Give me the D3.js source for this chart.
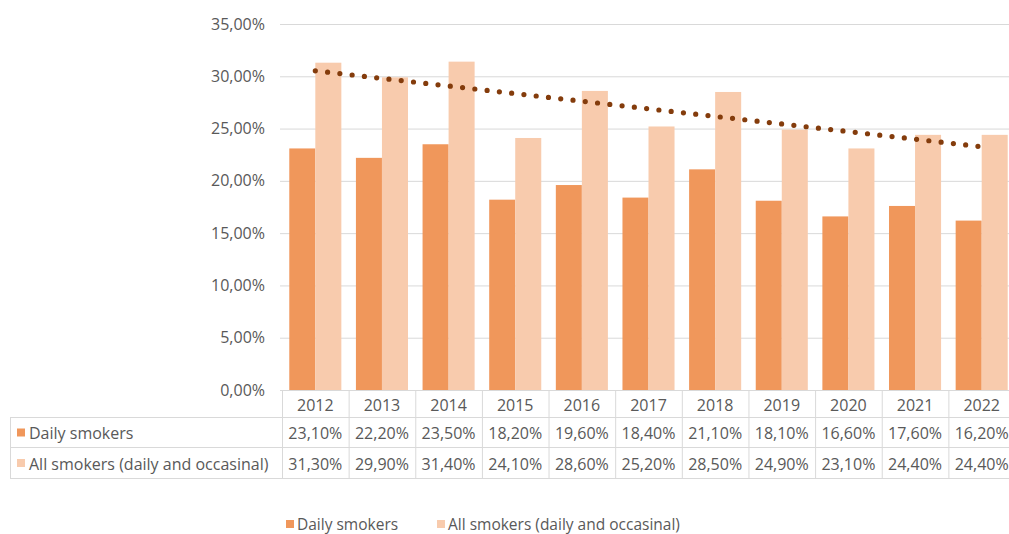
<!DOCTYPE html>
<html>
<head>
<meta charset="utf-8">
<script src="https://cdn.jsdelivr.net/npm/d3@7"></script>
<style>
  html, body { margin: 0; padding: 0; background: #ffffff; }
  svg { display: block; }
  text { font-family: "Open Sans", "Noto Sans", sans-serif; fill: #595959; }
</style>
</head>
<body>
<svg id="chart" width="1009" height="534"></svg>
<script>
// ---- data ----
const years = ["2012","2013","2014","2015","2016","2017","2018","2019","2020","2021","2022"];
const dailySmokers = [23.1, 22.2, 23.5, 18.2, 19.6, 18.4, 21.1, 18.1, 16.6, 17.6, 16.2];
const allSmokers   = [31.3, 29.9, 31.4, 24.1, 28.6, 25.2, 28.5, 24.9, 23.1, 24.4, 24.4];
const seriesNames  = ["Daily smokers", "All smokers (daily and occasinal)"];
const seriesKeys   = ["daily", "all"];
const yTicks       = [0, 5, 10, 15, 20, 25, 30, 35];

// ---- styles ----
const colors = { daily: "#F0975B", all: "#F8CBAD" };
const trendColor = "#843C0C";
const gridColor = "#D9D9D9";
const fontSize = 16;

const svg = d3.select("#chart");

const plotLeft = 282, plotRight = 1015, plotTop = 24, plotBottom = 390;
const rowH = [390, 417, 447, 478];

const locale = d3.formatLocale({ decimal: ",", thousands: ".", grouping: [3], currency: ["", "€"] });
const fmt = v => locale.format(".2f")(v) + "%";

const x = d3.scaleBand().domain(years).range([plotLeft, plotRight]).padding(0);
const xSub = d3.scaleBand().domain(seriesKeys).range([0, x.bandwidth()]).paddingInner(0).paddingOuter(0.28);
const y = d3.scaleLinear().domain([0, 35]).range([plotBottom, plotTop]);

const rows = years.map((yr, i) => ({ year: yr, daily: dailySmokers[i], all: allSmokers[i] }));

// gridlines + y labels
const yAxis = d3.axisLeft(y).tickValues(yTicks).tickFormat(fmt)
  .tickSize(-(plotRight - plotLeft + 2)).tickPadding(15);
const gy = svg.append("g").attr("transform", `translate(${plotLeft - 2},0)`).call(yAxis);
gy.select(".domain").remove();
gy.selectAll(".tick line").attr("stroke", gridColor).attr("stroke-width", 1);
gy.selectAll(".tick text").attr("font-size", fontSize).attr("fill", "#595959")
  .style("font-family", '"Open Sans", sans-serif');

// bars
const groups = svg.append("g").selectAll("g").data(rows).join("g")
  .attr("transform", d => `translate(${x(d.year)},0)`);
groups.selectAll("rect").data(d => seriesKeys.map(k => ({ key: k, value: d[k] }))).join("rect")
  .attr("x", d => xSub(d.key))
  .attr("width", xSub.bandwidth())
  .attr("y", d => y(d.value))
  .attr("height", d => y(0) - y(d.value))
  .attr("fill", d => colors[d.key]);

// linear trendline on all smokers (least squares, as the spreadsheet does)
const n = allSmokers.length;
const idx = d3.range(1, n + 1);
const mx = d3.mean(idx), my = d3.mean(allSmokers);
const slope = d3.sum(idx, (t, i) => (t - mx) * (allSmokers[i] - my)) / d3.sum(idx, t => (t - mx) ** 2);
const icpt = my - slope * mx;
const trendPts = [years[0], years[n - 1]].map((yr, j) => {
  const t = j === 0 ? 1 : n;
  return [x(yr) + x.bandwidth() / 2, y(icpt + slope * t)];
});
svg.append("path")
  .attr("d", d3.line()(trendPts))
  .attr("stroke", trendColor).attr("stroke-width", 5.2)
  .attr("stroke-linecap", "round").attr("stroke-dasharray", "0 12.35")
  .attr("fill", "none");

// ---- data table ----
const table = svg.append("g");
const line = (x1, y1, x2, y2) => table.append("line")
  .attr("x1", x1).attr("y1", y1).attr("x2", x2).attr("y2", y2)
  .attr("stroke", gridColor).attr("stroke-width", 1);

line(plotLeft, rowH[0] + 0.5, plotRight, rowH[0] + 0.5);
line(10, rowH[1] + 0.5, plotRight, rowH[1] + 0.5);
line(10, rowH[2] + 0.5, plotRight, rowH[2] + 0.5);
line(10, rowH[3] + 0.5, plotRight, rowH[3] + 0.5);
line(10.5, rowH[1], 10.5, rowH[3]);
years.concat(["__end"]).forEach((yr, i) => {
  const xx = (i < years.length ? x(yr) : plotRight) + 0.5;
  line(xx, rowH[0], xx, rowH[3]);
});

// year row
table.selectAll("text.year").data(years).join("text").attr("class", "year")
  .attr("x", d => x(d) + x.bandwidth() / 2)
  .attr("y", (rowH[0] + rowH[1]) / 2 + 1)
  .attr("text-anchor", "middle").attr("dominant-baseline", "central")
  .attr("font-size", fontSize).text(d => d);

// value rows
seriesKeys.forEach((k, r) => {
  const yc = (rowH[r + 1] + rowH[r + 2]) / 2 + 1;
  table.selectAll(`text.v${k}`).data(rows).join("text").attr("class", `v${k}`)
    .attr("x", d => x(d.year) + x.bandwidth() / 2)
    .attr("y", yc)
    .attr("text-anchor", "middle").attr("dominant-baseline", "central")
    .attr("font-size", fontSize).text(d => fmt(d[k]));
  table.append("rect").attr("x", 17).attr("y", yc - 4.5).attr("width", 8).attr("height", 8)
    .attr("fill", colors[k]);
  table.append("text").attr("x", 29).attr("y", yc)
    .attr("dominant-baseline", "central").attr("font-size", fontSize).text(seriesNames[r]);
});

// ---- bottom legend ----
const legend = svg.append("g");
const legendX = [286, 437];
seriesKeys.forEach((k, i) => {
  legend.append("rect").attr("x", legendX[i]).attr("y", 520).attr("width", 8).attr("height", 8)
    .attr("fill", colors[k]);
  legend.append("text").attr("x", legendX[i] + 11).attr("y", 523.5)
    .attr("dominant-baseline", "central").attr("font-size", 15.5).text(seriesNames[i]);
});
</script>
</body>
</html>
